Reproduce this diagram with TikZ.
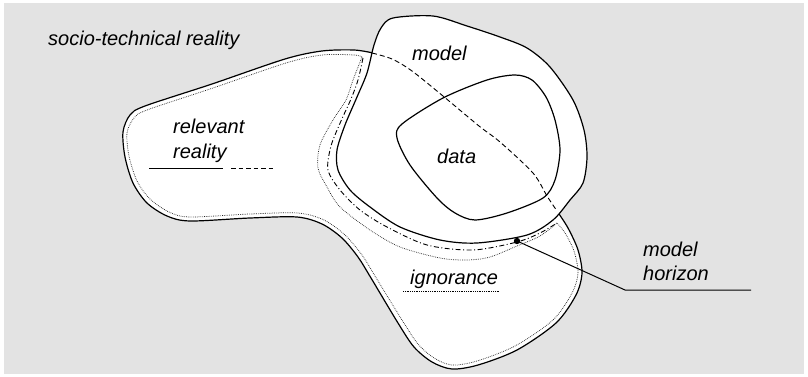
\documentclass[tikz,border=0pt]{standalone}
\usepackage{fontspec}
\setmainfont{Liberation Sans}
\definecolor{bggray}{RGB}{227,227,227}

\begin{document}
\begin{tikzpicture}
  [x=1pt,y=-1pt,line join=round,
   every node/.style={inner sep=0pt,anchor=base west,font=\fontsize{20}{24}\selectfont\itshape},
   solidedge/.style={line width=1.2pt},
   horizonarc/.style={line width=0.9pt,dash pattern=on 5pt off 3pt},
   modelline/.style={line width=0.9pt,dash pattern=on 5pt off 2.5pt on 1pt off 2.5pt},
   insetline/.style={line width=0.75pt,black!85,dash pattern=on 0.7pt off 1.1pt},
   rule/.style={line width=1pt}]
  \useasboundingbox (0,0) rectangle (808,377);
  \fill[bggray] (4,3) rectangle (804,374);

  % relevant reality (left and lower lobe)
  \draw[solidedge,fill=white] plot[smooth] coordinates {(373,53) (354,50) (322,51) (285,59) (212,84) (145,106) (130,115) (123,132) (125,157) (133,183) (147,203) (167,216) (190,221) (250,218) (297,217) (322,224) (342,238) (358,257) (371,278) (398,323) (414,347) (432,362) (452,369) (478,365) (517,350) (556,323) (576,295) (582,273) (578,250) (568,228) (557,211)};
  % model and data
  \draw[solidedge,fill=white] plot[smooth cycle] coordinates {(393,18) (433,16) (467,26) (500,37) (527,48) (550,67) (573,100) (584,130) (587,157) (583,183) (570,200) (553,220) (527,235) (477,243) (440,240) (400,227) (370,207) (350,190) (338,170) (337,150) (345,125) (357,97) (367,73) (374,45) (381,28)};
  \draw[solidedge] plot[smooth cycle] coordinates {(515,75) (532,80) (546,97) (555,120) (560,150) (555,180) (543,198) (507,213) (475,220) (455,213) (437,198) (410,165) (397,138) (402,124) (443,98) (487,80)};
  \draw[horizonarc] plot[smooth] coordinates {(372,53) (392,59) (412,71) (443,96) (479,126) (500,142) (533,173) (547,196) (557,211)};
  \draw[modelline] plot[smooth] coordinates {(363,58) (358,80) (351,99) (341,121) (331,146) (328,170) (340,190) (360,210) (387,227) (427,245) (473,250) (517,242) (540,233) (557,223)};
  \draw[insetline] plot[smooth] coordinates {(362,57) (354,55) (322,55) (286,63) (213,88) (147,110) (134,118) (127,133) (129,156) (137,181) (150,199) (169,212) (190,217) (250,214) (298,213) (324,220) (345,235) (362,255) (375,276) (402,320) (418,344) (434,358) (452,365) (477,361) (515,346) (553,320) (572,293) (578,273) (574,251) (565,233) (557,223)}
    -- plot[smooth] coordinates {(557,223) (540,236) (517,246) (490,257) (467,260) (440,258) (400,247) (370,230) (340,207) (327,187) (318,168) (320,145) (333,120) (346,100) (353,80) (362,57)} -- cycle;

  \node (socio) at (48,46) {socio-technical reality};
  \node (model) at (412,61) {model};
  \node (data) at (437,163) {data};
  \node (rel1) at (173,134) {relevant};
  \node (rel2) at (173,158) {reality};
  \node (ign) at (410,284) {ignorance};
  \node (mh1) at (643,256) {model};
  \node (mh2) at (643,280) {horizon};

  \coordinate (relA) at (149,168);
  \coordinate (relB) at (223,168);
  \coordinate (relC) at (231,168);
  \coordinate (relD) at (275,168);
  \coordinate (ignA) at (403,291);
  \coordinate (ignB) at (500,291);
  \coordinate (hzdot) at (517,241);
  \coordinate (hzbend) at (625,290);
  \coordinate (hzend) at (751,290);

  \draw[rule] (relA) -- (relB);
  \draw[rule,dash pattern=on 4.5pt off 3pt] (relC) -- (relD);
  \draw[rule,dash pattern=on 0.7pt off 1.1pt] (ignA) -- (ignB);
  \fill (hzdot) circle (3.2pt);
  \draw[rule] (hzdot) -- (hzbend) -- (hzend);
\end{tikzpicture}
\end{document}
